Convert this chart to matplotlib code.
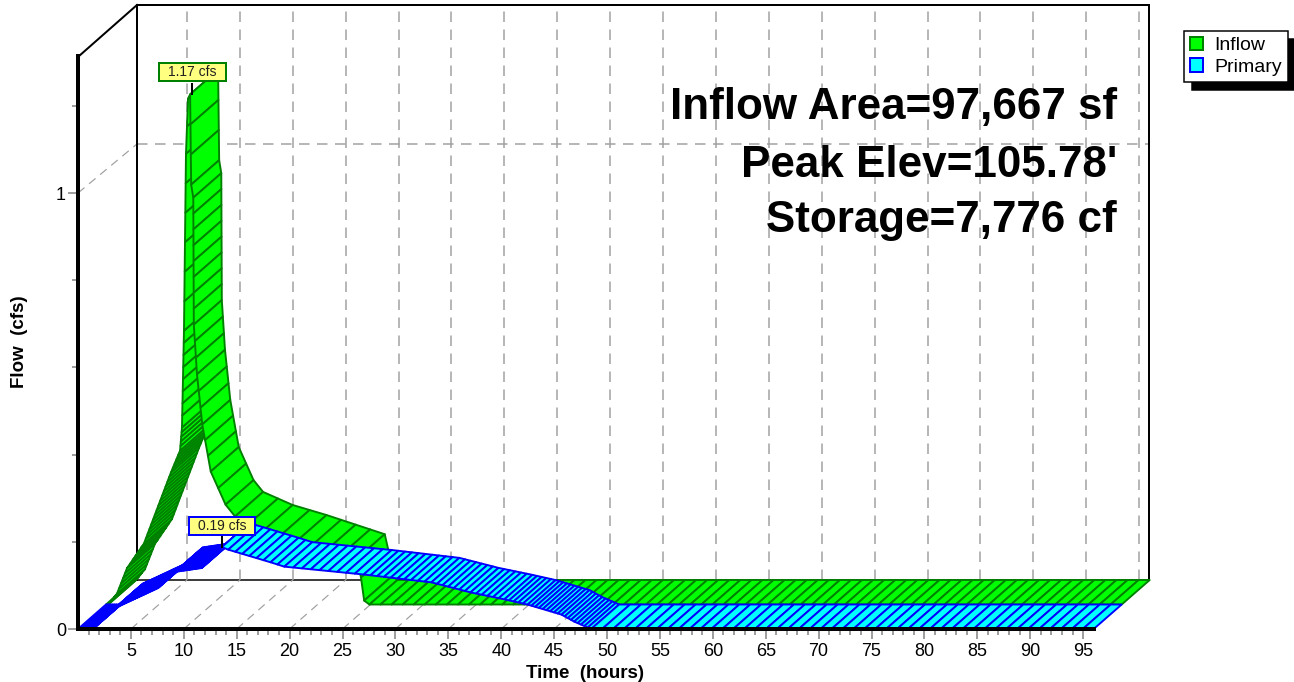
import matplotlib
matplotlib.use('Agg')
import matplotlib.pyplot as plt
from matplotlib.collections import PolyCollection
from matplotlib.patches import Patch, Rectangle
import numpy as np

plt.rcParams['font.family'] = ['Liberation Sans', 'DejaVu Sans']

# hydrograph values (hours, cfs)
inflow_t = [0, 0.2, 1.04, 1.98, 3.59, 6.14, 7.0, 7.18, 7.37, 7.56, 7.75, 7.95, 8.05, 8.25, 8.3,
            8.6, 9.1, 9.9, 11.3, 12.2, 15.0, 18.2, 23.7, 24.1, 24.4, 24.9, 96]
inflow_q = [0, 0, 0.025, 0.083, 0.14, 0.303, 0.353, 0.406, 0.628, 1.034, 1.16, 1.17, 0.963, 0.933, 0.642,
            0.528, 0.413, 0.305, 0.229, 0.202, 0.172, 0.149, 0.105, 0.062, 0.009, 0, 0]
primary_t = [0, 1.4, 3.5, 7.56, 9.17, 11.7, 13.6, 14.2, 18.2, 19.5, 27.0, 33.4, 37.1,
             40.3, 42.5, 45.7, 46.9, 48.5, 96]
primary_q = [0, 0, 0.048, 0.094, 0.131, 0.14, 0.188, 0.182, 0.153, 0.143, 0.125, 0.107, 0.084,
             0.068, 0.056, 0.033, 0.017, 0, 0]
stats = ['Inflow Area=97,667 sf', "Peak Elev=105.78'", 'Storage=7,776 cf']
peak_labels = ['1.17 cfs', '0.19 cfs']
x_major = list(range(5, 100, 5))
y_major = [0, 1]
y_minor = [0.2, 0.4, 0.6, 0.8, 1.2]

# pixel sizes of the picture
W, H = 1294, 682
X_PER_HOUR = 10.58
Y_PER_CFS = 436.0
DEPTH_X = 56 / X_PER_HOUR   # full depth of the 3d box, in hours
DEPTH_Y = 49 / Y_PER_CFS    # same in cfs
T_MAX = 96.03
Q_MAX = 573 / Y_PER_CFS

GREEN, DARK_GREEN = '#00ff00', '#008000'
CYAN, BLUE = '#00ffff', '#0000ff'
GRID = '#a0a0a0'


def px_w(p):
    return p * 72 / 100


# hatch lines are just the slices of each ribbon, spacing is in pixels along the curve
def slices(t, q, spacing):
    ts, qs = [t[0]], [q[0]]
    for i in range(len(t) - 1):
        dx = (t[i + 1] - t[i]) * X_PER_HOUR
        dy = (q[i + 1] - q[i]) * Y_PER_CFS
        n = max(1, int(round(np.hypot(dx, dy) / spacing[i])))
        for k in range(1, n + 1):
            ts.append(t[i] + (t[i + 1] - t[i]) * k / n)
            qs.append(q[i] + (q[i + 1] - q[i]) * k / n)
    return np.array(ts), np.array(qs)


def ribbon(ax, t, q, d0, d1, spacing, face, edge, z):
    ts, qs = slices(t, q, spacing)
    x0 = ts + d0 * DEPTH_X
    y0 = qs + d0 * DEPTH_Y
    x1 = ts + d1 * DEPTH_X
    y1 = qs + d1 * DEPTH_Y
    quads = []
    for i in range(len(ts) - 1):
        quads.append([(x0[i], y0[i]), (x1[i], y1[i]), (x1[i + 1], y1[i + 1]), (x0[i + 1], y0[i + 1])])
    pc = PolyCollection(quads, facecolors=face, edgecolors=edge, linewidths=px_w(1.9), zorder=z, clip_on=False)
    ax.add_collection(pc)


fig = plt.figure(figsize=(W / 100, H / 100), dpi=100)
ax = fig.add_axes([78 / W, (H - 629) / H, T_MAX * X_PER_HOUR / W, Q_MAX * Y_PER_CFS / H])
ax.set_xlim(0, T_MAX)
ax.set_ylim(0, Q_MAX)
ax.patch.set_alpha(0)

# back wall and floor
back_x = DEPTH_X + 0.28
top_q = 624 / Y_PER_CFS
right_x = T_MAX + DEPTH_X - 0.1
ax.plot([back_x, back_x], [DEPTH_Y, top_q], color='k', lw=px_w(2), zorder=0.6, clip_on=False)
ax.plot([back_x, right_x], [top_q, top_q], color='k', lw=px_w(2), zorder=0.6, clip_on=False)
ax.plot([right_x, right_x], [DEPTH_Y, top_q], color='k', lw=px_w(2), zorder=0.6, clip_on=False)
ax.plot([0.1, back_x], [Q_MAX, top_q], color='k', lw=px_w(2), zorder=0.6, clip_on=False)
ax.plot([back_x, right_x], [DEPTH_Y, DEPTH_Y], color='k', lw=px_w(1.5), zorder=0.5, clip_on=False)

dash = (0, (7, 5))
for x in x_major:
    ax.plot([x + DEPTH_X] * 2, [DEPTH_Y, top_q], color=GRID, lw=px_w(1.5), ls=dash, zorder=0.5, clip_on=False)
    ax.plot([x, x + DEPTH_X], [0, DEPTH_Y], color=GRID, lw=px_w(1.2), ls=dash, zorder=0.5, clip_on=False)
ax.plot([back_x, right_x], [1 + DEPTH_Y] * 2, color=GRID, lw=px_w(1.5), ls=dash, zorder=0.5, clip_on=False)
ax.plot([0, back_x], [1, 1 + DEPTH_Y], color=GRID, lw=px_w(1.2), ls=dash, zorder=0.5, clip_on=False)

# ribbons, spacing given per curve segment
inflow_spacing = [11, 5, 5, 5, 5, 5, 5, 12, 28, 28, 28, 28, 16, 16, 16,
                  16, 16, 16, 16, 16, 16, 16, 16, 16, 16, 11]
primary_spacing = [2, 2, 2, 2, 2, 2, 6, 7, 7, 9, 7, 6, 6, 5, 4, 4, 4, 11]
ribbon(ax, inflow_t, inflow_q, 0.5, 1, inflow_spacing, GREEN, DARK_GREEN, 1)
ribbon(ax, primary_t, primary_q, 0, 0.5, primary_spacing, CYAN, BLUE, 1.1)

# axes
for s in ['top', 'right']:
    ax.spines[s].set_visible(False)
ax.spines['left'].set_linewidth(px_w(4))
ax.spines['bottom'].set_linewidth(px_w(4))
ax.set_xticks(x_major)
ax.set_xticks(range(1, 96), minor=True)
ax.set_yticks(y_major)
ax.set_yticks(y_minor, minor=True)
ax.set_yticklabels(['0', '1'])
ax.tick_params(axis='both', which='major', length=px_w(10), width=px_w(1.5), color='#808080', labelsize=13)
ax.tick_params(axis='x', which='major', pad=px_w(4))
ax.tick_params(axis='y', which='major', pad=px_w(2))
ax.tick_params(axis='both', which='minor', length=px_w(6), width=px_w(1.5), color='#808080')
fig.text(585 / W, 1 - 673 / H, 'Time  (hours)', fontweight='bold', fontsize=13.5, ha='center', va='center')
fig.text(20 / W, 1 - 342 / H, 'Flow  (cfs)', rotation=90, fontweight='bold', fontsize=13.5,
         ha='center', va='center')

# stats text
for s, py in zip(stats, [119, 177, 232]):
    fig.text(1117 / W, 1 - py / H, s, fontweight='bold', fontsize=31.7, ha='right', va='baseline')


# peak labels, box given in pixels of the picture
def peak_box(left, top, right, bottom, text, edge):
    x0 = (left - 78) / X_PER_HOUR
    x1 = (right - 78) / X_PER_HOUR
    y0 = (629 - bottom) / Y_PER_CFS
    y1 = (629 - top) / Y_PER_CFS
    ax.add_patch(Rectangle((x0, y0), x1 - x0, y1 - y0, facecolor='#ffff80', edgecolor=edge,
                           linewidth=px_w(2), zorder=5, clip_on=False))
    ax.text((x0 + x1) / 2, (y0 + y1) / 2, text, fontsize=10, ha='center', va='center', color='#202020', zorder=6)


stem_x = inflow_t[11] + DEPTH_X / 2 + 0.2
ax.plot([stem_x, stem_x], [inflow_q[11] + DEPTH_Y / 2, 1.25], color='k', lw=px_w(2), zorder=4, clip_on=False)
ax.plot([primary_t[6]] * 2, [primary_q[6], 0.22], color='k', lw=px_w(2), zorder=4, clip_on=False)
peak_box(158.5, 63, 225.5, 81, peak_labels[0], DARK_GREEN)
peak_box(188.5, 516.5, 255, 535, peak_labels[1], BLUE)

# legend
handles = [Patch(facecolor=GREEN, edgecolor=DARK_GREEN, linewidth=px_w(2), label='Inflow'),
           Patch(facecolor=CYAN, edgecolor=BLUE, linewidth=px_w(2), label='Primary')]
leg = fig.legend(handles=handles, loc='upper left', bbox_to_anchor=(1184 / W, 1 - 31 / H), fontsize=14,
                 fancybox=False, edgecolor='k', framealpha=1, borderpad=0.3, labelspacing=0.2,
                 handlelength=0.7, handleheight=0.7, handletextpad=0.55, borderaxespad=0,
                 shadow={'ox': 6, 'oy': -6, 'color': 'k', 'alpha': 1})
leg.get_frame().set_linewidth(px_w(1.5))

fig.savefig('out.png', dpi=100)
